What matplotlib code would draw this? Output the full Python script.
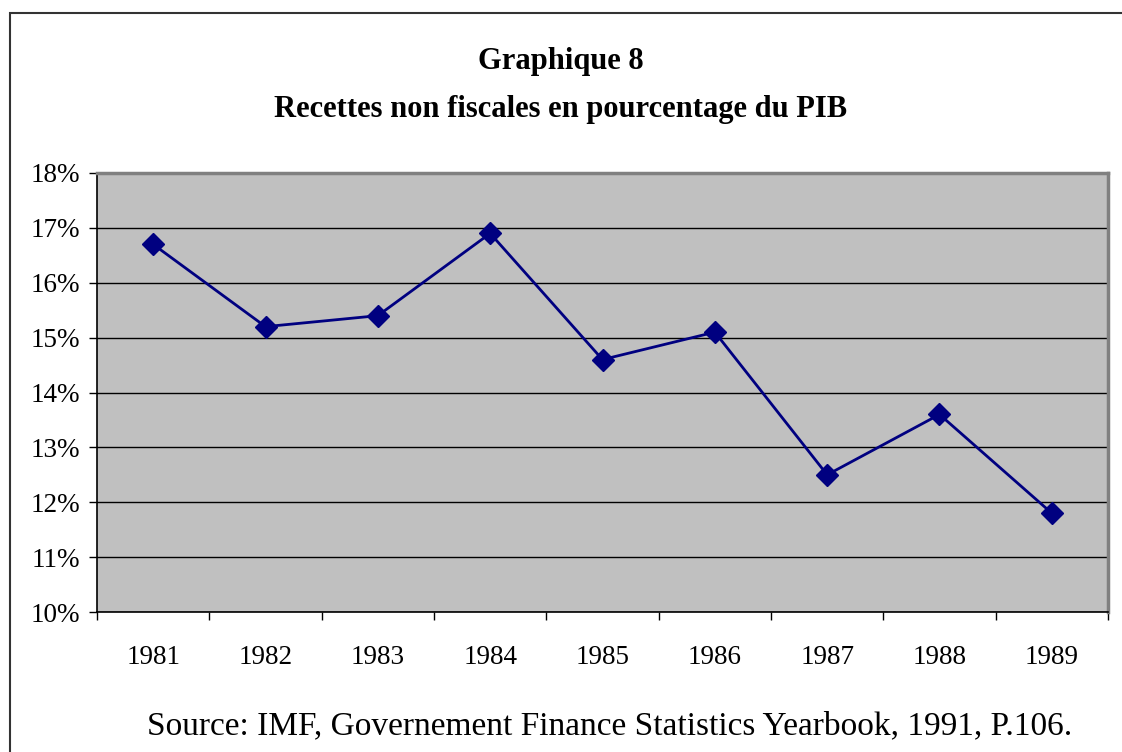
"""Graphique 8: recettes non fiscales en pourcentage du PIB."""
import matplotlib
matplotlib.use("Agg")
from matplotlib import pyplot as plt
from matplotlib.patches import Rectangle
from matplotlib.ticker import FuncFormatter

years = ["1981", "1982", "1983", "1984", "1985", "1986", "1987", "1988", "1989"]
share = [16.7, 15.2, 15.4, 16.9, 14.6, 15.1, 12.5, 13.6, 11.8]

title_lines = ["Graphique 8", "Recettes non fiscales en pourcentage du PIB"]
source = "Source: IMF, Governement Finance Statistics Yearbook, 1991, P.106."

plt.rcParams["font.family"] = ["Liberation Serif", "DejaVu Serif"]

W, H = 1122, 752
fig = plt.figure(figsize=(W / 100, H / 100), dpi=100)

# outer chart frame (runs off the right and bottom edges)
fig.patches.append(Rectangle((10 / W, -0.05), 1.2, 1 - 13 / H + 0.05,
                             transform=fig.transFigure, fill=False,
                             edgecolor="#333333", linewidth=1.5))

left, right, top, bottom = 97, 1108, 173, 612
ax = fig.add_axes([left / W, 1 - bottom / H, (right - left) / W, (bottom - top) / H])
ax.set_facecolor("#C0C0C0")

x = list(range(len(years)))
ax.plot(x, share, color="#000080", linewidth=2, marker="D", markersize=11.5,
        zorder=3)

ax.set_xlim(-0.5, len(years) - 0.5)
ax.set_ylim(10, 18)
ax.set_yticks(range(10, 19))
ax.yaxis.set_major_formatter(FuncFormatter(lambda v, p: f"{v:.0f}%"))
ax.grid(axis="y", color="black", linewidth=1)
ax.set_axisbelow(True)

ax.set_xticks([i + 0.5 for i in range(-1, len(years))])
ax.set_xticklabels([])
ax.set_xticks(x, minor=True)
ax.set_xticklabels(years, minor=True)
ax.tick_params(axis="x", which="major", direction="out", length=6, width=1)
ax.tick_params(axis="x", which="minor", length=0, pad=24, labelsize=19.5)
ax.tick_params(axis="y", direction="out", length=6, width=1, labelsize=19.5, pad=6)

for side in ("top", "right"):
    ax.spines[side].set_color("#808080")
    ax.spines[side].set_linewidth(2.5)
for side in ("left", "bottom"):
    ax.spines[side].set_color("black")
    ax.spines[side].set_linewidth(1.2)

fig.text(0.5, 1 - 62 / H, title_lines[0], ha="center", va="center",
         fontsize=22, fontweight="bold")
fig.text(0.5, 1 - 110 / H, title_lines[1], ha="center", va="center",
         fontsize=22, fontweight="bold")
fig.text(610 / W, 1 - 726 / H, source, ha="center", va="center", fontsize=24)

fig.savefig("out.png", dpi=100)
